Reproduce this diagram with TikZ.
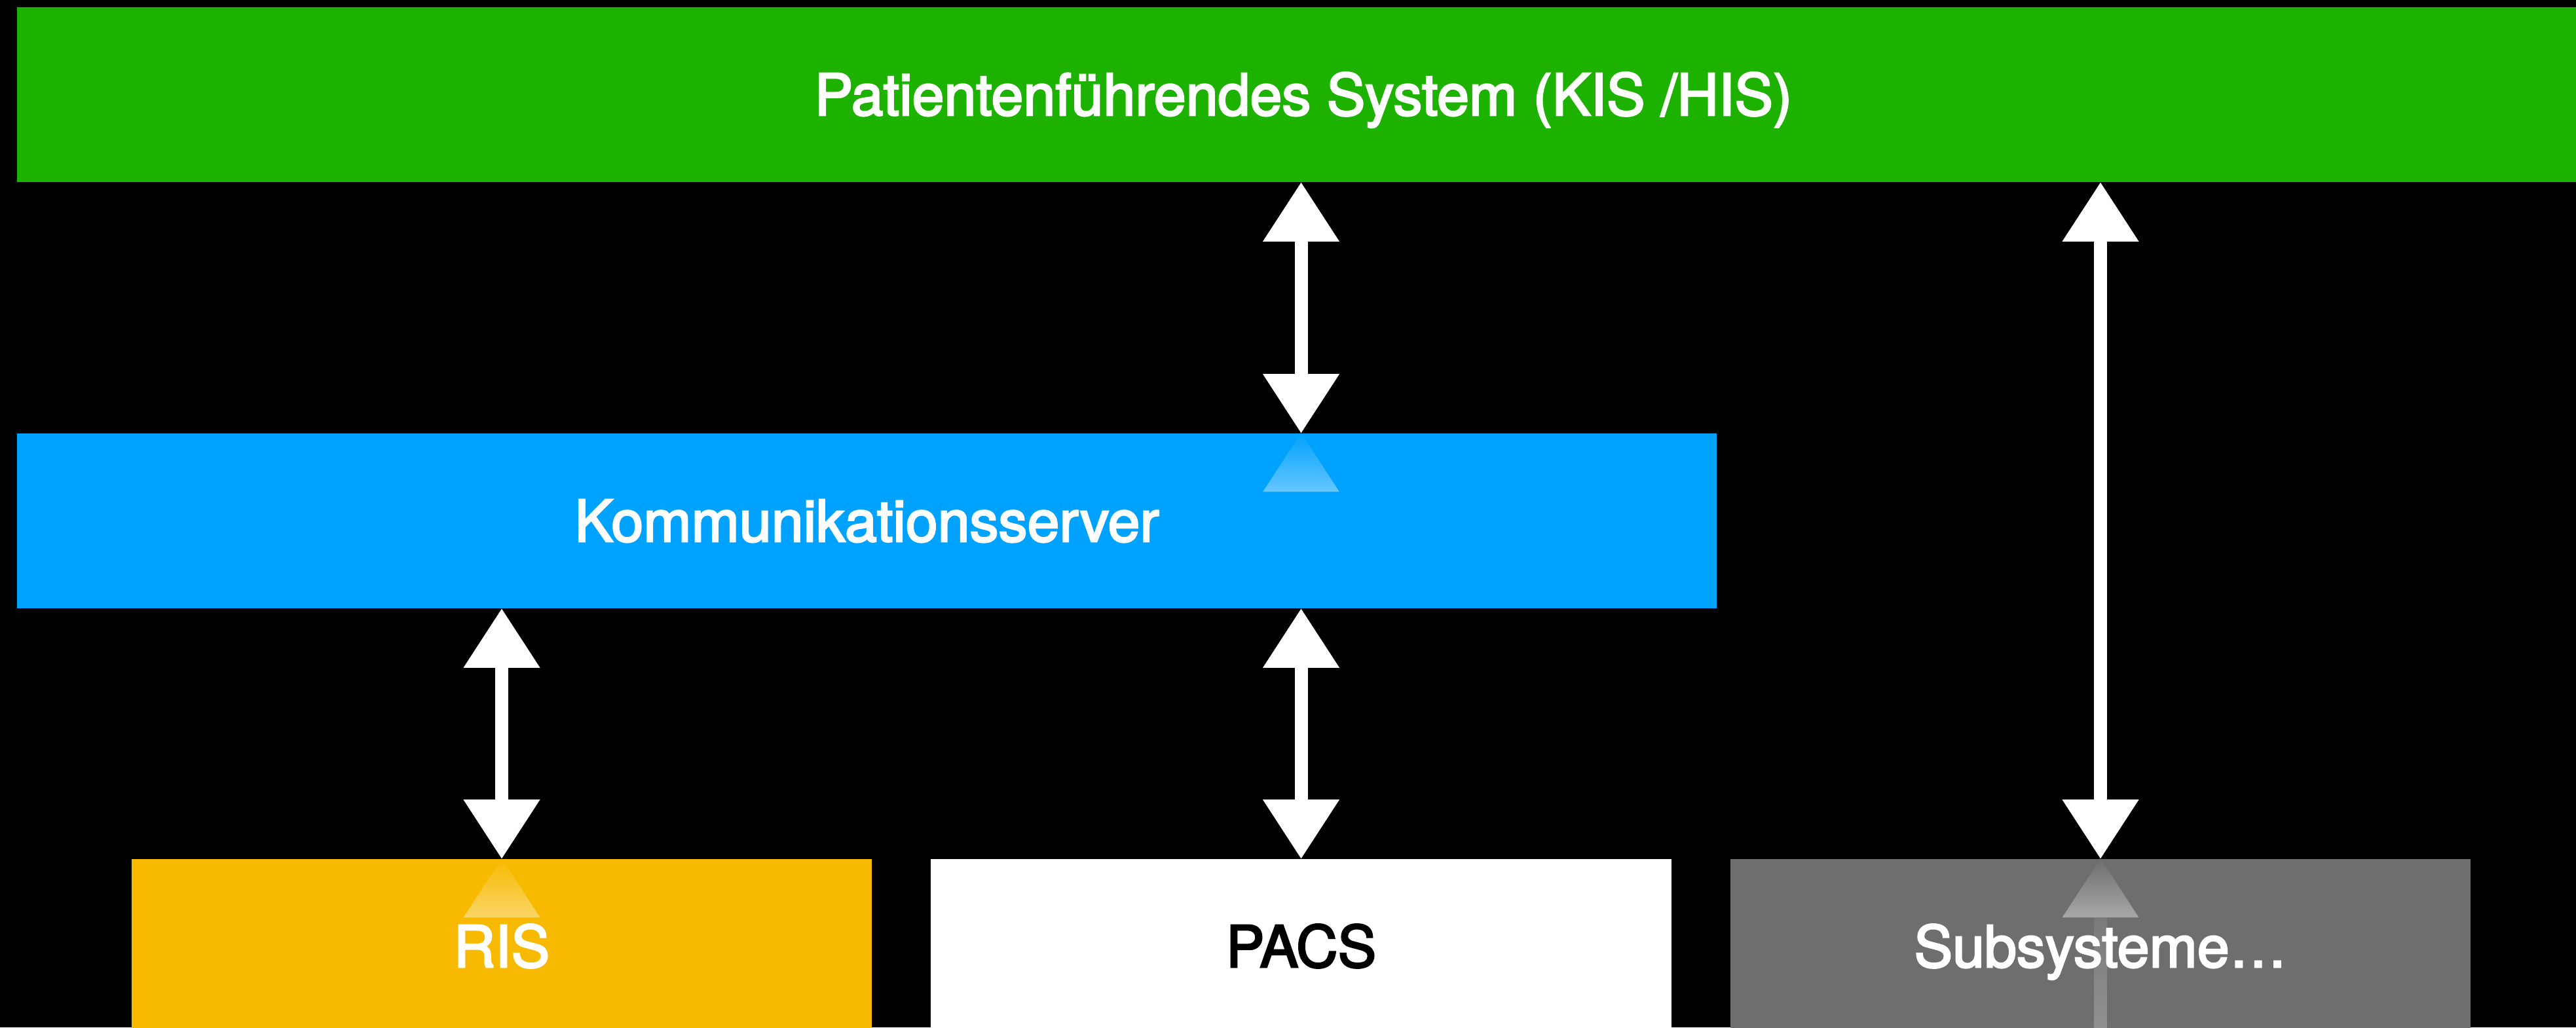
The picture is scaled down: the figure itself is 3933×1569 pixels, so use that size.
\documentclass[tikz,border=0pt]{standalone}
\usepackage{fontspec}
\setmainfont{TeX Gyre Heros}
\newfontfamily\boxfont{TeX Gyre Heros}[FakeBold=3]
\usetikzlibrary{arrows.meta,fadings}

\definecolor{hisgreen}{HTML}{1DB100}
\definecolor{ksblue}{HTML}{00A2FF}
\definecolor{risyellow}{HTML}{F8BA00}
\definecolor{subgrey}{HTML}{6E6E6E}

\begin{document}
\begin{tikzpicture}[x=0.01cm, y=-0.01cm]
	%define block styles
	\tikzset{
		block/.style={rectangle, minimum height=2.67cm, inner sep=0pt, text height=17.9pt, text depth=0pt, font=\boxfont\fontsize{25}{30}\selectfont, text=white},
		link/.style={draw=white, line width=0.2cm, {Triangle[width=1.17cm,length=0.9cm,line width=0pt]}-{Triangle[width=1.17cm,length=0.9cm,line width=0pt]}},
		mirror/.style={fill=white, fill opacity=0.4, path fading=north},
	}
	%background
	\fill[black] (0,0) rectangle (3933,1569);
	\useasboundingbox (0,0) rectangle (3933,1569);
	%define nodes
	\node[block, fill=hisgreen, minimum width=39.26cm](his) at (1990,144.5){Patientenführendes System (KIS /HIS)};
	\node[block, fill=ksblue, minimum width=25.93cm](ks) at (1323.5,795.5){Kommunikationsserver};
	\node[block, fill=risyellow, minimum width=11.3cm](ris) at (766,1445.5){RIS};
	\node[block, fill=white, minimum width=11.31cm, text=black](pacs) at (1986.5,1445.5){PACS};
	\node[block, fill=subgrey, minimum width=11.3cm](sub) at (3207,1445.5){Subsysteme…};
	%reflections
	\fill[mirror] (ks.north -| pacs.north) -- ++(-58.5,90) -- ++(117,0) -- cycle;
	\fill[mirror] (ris.north) -- ++(-58.5,90) -- ++(117,0) -- cycle;
	\fill[mirror] (sub.north) -- ++(-58.5,90) -- ++(117,0) -- cycle;
	\fill[mirror, fill opacity=0.25] (sub.north) ++(-10,90) rectangle ([xshift=0.1cm]sub.south);
	%define arrows
	\draw[link] (his.south -| pacs.north) -- (ks.north -| pacs.north);
	\draw[link] (ks.south -| ris.north) -- (ris.north);
	\draw[link] (ks.south -| pacs.north) -- (pacs.north);
	\draw[link] (his.south -| sub.north) -- (sub.north);
\end{tikzpicture}
\end{document}
